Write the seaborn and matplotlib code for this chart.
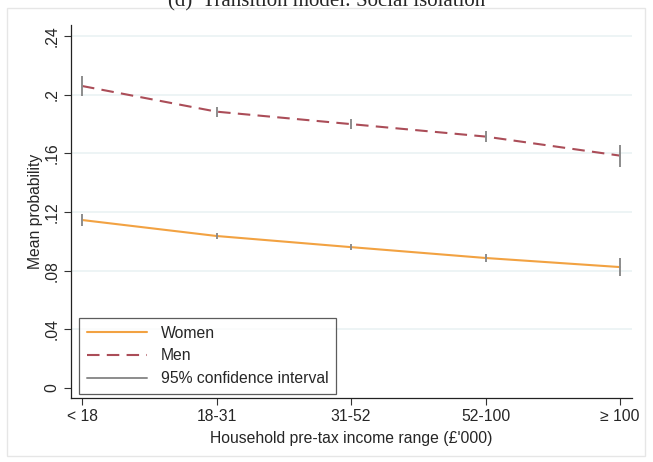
import pandas as pd
import matplotlib.pyplot as plt
import seaborn as sns
from matplotlib.lines import Line2D
from matplotlib.patches import Rectangle

# data
income = ["< 18", "18-31", "31-52", "52-100", "\u2265 100"]
women = [0.1146, 0.1037, 0.0961, 0.0887, 0.0825]
women_lo = [0.1105, 0.1017, 0.0943, 0.0862, 0.0765]
women_hi = [0.1187, 0.1057, 0.0979, 0.0912, 0.0885]
men = [0.2060, 0.1885, 0.1800, 0.1715, 0.1585]
men_lo = [0.1995, 0.1850, 0.1765, 0.1675, 0.1510]
men_hi = [0.2125, 0.1920, 0.1835, 0.1755, 0.1660]
yticks = [0, 0.04, 0.08, 0.12, 0.16, 0.2, 0.24]
ytick_labels = ["0", ".04", ".08", ".12", ".16", ".2", ".24"]

df = pd.DataFrame({
    "income": income * 2,
    "pos": list(range(len(income))) * 2,
    "prob": women + men,
    "lo": women_lo + men_lo,
    "hi": women_hi + men_hi,
    "sex": ["Women"] * 5 + ["Men"] * 5,
})

sns.set_style("white")
plt.rcParams["font.family"] = ["Liberation Sans", "DejaVu Sans"]

fig = plt.figure(figsize=(6.53, 4.62), dpi=100)
ax = fig.add_axes([0.1087, 0.1385, 0.8593, 0.8074])

colors = {"Women": "#f2a242", "Men": "#ab4d58"}
fs = 11.3

# confidence intervals
for _, r in df.iterrows():
    ax.vlines(r["pos"], r["lo"], r["hi"], color="#8c8c8c", lw=1.4, zorder=3)

sns.lineplot(data=df[df.sex == "Women"], x="pos", y="prob", color=colors["Women"],
             lw=1.5, ax=ax, legend=False, zorder=2)
sns.lineplot(data=df[df.sex == "Men"], x="pos", y="prob", color=colors["Men"],
             lw=1.5, ax=ax, legend=False, zorder=2, linestyle=(0, (6, 3.5)))

ax.set_xlim(-0.082, 4.09)
ax.set_ylim(-0.0068, 0.2476)
ax.set_xticks(range(len(income)))
ax.set_xticklabels(income, fontsize=fs)
ax.set_yticks(yticks)
ax.set_yticklabels(ytick_labels, rotation=90, va="center", fontsize=fs)
ax.tick_params(axis="both", direction="out", length=5, width=0.8, color="#333333",
               left=True, bottom=True, pad=3)
for yv in yticks[1:]:
    ax.axhline(yv, color="#eaf2f3", lw=1.2, zorder=0)

for s in ["top", "right"]:
    ax.spines[s].set_visible(False)
for s in ["left", "bottom"]:
    ax.spines[s].set_color("#222222")
    ax.spines[s].set_linewidth(0.9)

ax.set_xlabel("Household pre-tax income range (\u00a3'000)", fontsize=fs, labelpad=5)
ax.set_ylabel("Mean probability", fontsize=fs, labelpad=1)

handles = [
    Line2D([], [], color=colors["Women"], lw=1.5),
    Line2D([], [], color=colors["Men"], lw=1.5, linestyle=(0, (6, 3.5))),
    Line2D([], [], color="#8c8c8c", lw=1.4),
]
leg = ax.legend(handles, ["Women", "Men", "95% confidence interval"], loc="lower left",
                bbox_to_anchor=(0.008, 0.0), fontsize=fs, frameon=True, fancybox=False,
                borderpad=0.5, labelspacing=0.5, handlelength=3.8, handletextpad=0.9,
                borderaxespad=0.25)
leg.get_frame().set_edgecolor("#333333")
leg.get_frame().set_linewidth(0.9)

# outer frame and cut-off panel title
fig.patches.append(Rectangle((0.011, 0.012), 0.977, 0.971, transform=fig.transFigure,
                             fill=False, edgecolor="#e6e6e6", lw=1))
fig.text(0.5, 1 - 6 / 462, "(d)  Transition model: Social isolation", ha="center",
         va="baseline", fontsize=15, family=["Liberation Serif", "DejaVu Serif"])

fig.savefig("out.png", dpi=100)
